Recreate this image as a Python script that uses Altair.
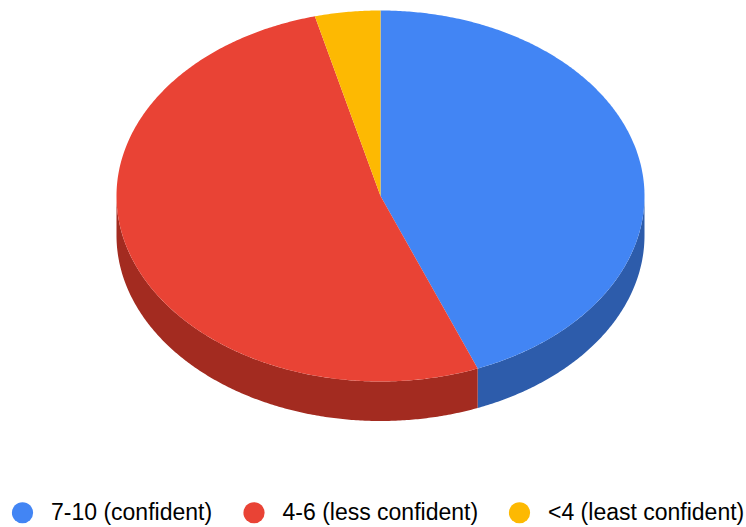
import numpy as np
import pandas as pd
import altair as alt

# Survey responses, share of answers per confidence band
categories = ["7-10 (confident)", "4-6 (less confident)", "<4 (least confident)"]
shares = [44.0, 52.0, 4.0]
face_colors = ["#4285f4", "#e94335", "#fdb902"]
wall_colors = ["#2d5cab", "#a32b20", "#af8303"]

W, H = 746, 527
CX, CY = 380.5, 196.0
RX, RY = 264.0, 185.5
DEPTH = 39.5 / RY  # wall height in units of the vertical radius


def rim(start, stop):
    """Points along the tilted pie's rim between two clockwise-from-top angles."""
    n = max(2, int(abs(stop - start) * 120))
    t = np.linspace(start, stop, n)
    return np.sin(t), np.cos(t)


face_rows, wall_rows = [], []
turn = 0.0
total = sum(shares)
for name, share in zip(categories, shares):
    a0 = turn * 2 * np.pi / total
    a1 = (turn + share) * 2 * np.pi / total
    turn += share

    x, y = rim(a0, a1)
    xs = np.r_[0.0, x]
    ys = np.r_[0.0, y]
    for i, (px, py) in enumerate(zip(xs, ys)):
        face_rows.append({"band": name, "step": i, "x": px, "y": py})

    # The wall only shows on the front half of the rim
    lo, hi = max(a0, np.pi / 2), min(a1, 3 * np.pi / 2)
    if hi > lo:
        x, y = rim(lo, hi)
        xs = np.r_[x, x[::-1]]
        ys = np.r_[y, y[::-1] - DEPTH]
        for i, (px, py) in enumerate(zip(xs, ys)):
            wall_rows.append({"band": name, "step": i, "x": px, "y": py})

faces = pd.DataFrame(face_rows)
walls = pd.DataFrame(wall_rows)

x_scale = alt.Scale(domain=[-CX / RX, (W - CX) / RX], nice=False, zero=False)
y_scale = alt.Scale(domain=[(CY - H) / RY, CY / RY], nice=False, zero=False)
x_enc = alt.X("x:Q", scale=x_scale, axis=None)
y_enc = alt.Y("y:Q", scale=y_scale, axis=None)

wall_layer = (
    alt.Chart(walls)
    .mark_line(filled=True, strokeWidth=0)
    .encode(
        x=x_enc,
        y=y_enc,
        order="step:Q",
        color=alt.Color(
            "band:N",
            scale=alt.Scale(domain=categories, range=wall_colors),
            legend=None,
        ),
    )
)

face_layer = (
    alt.Chart(faces)
    .mark_line(filled=True, strokeWidth=0)
    .encode(
        x=x_enc,
        y=y_enc,
        order="step:Q",
        color=alt.Color(
            "band:N",
            sort=categories,
            scale=alt.Scale(domain=categories, range=face_colors),
            legend=alt.Legend(
                title=None,
                orient="none",
                legendX=11,
                legendY=501,
                direction="horizontal",
                columns=3,
                symbolType="circle",
                symbolSize=450,
                symbolStrokeWidth=0,
                symbolOpacity=1,
                labelFont="Liberation Sans",
                labelFontSize=23,
                labelColor="#000000",
                labelOffset=17,
                columnPadding=29.5,
                padding=0,
                labelLimit=300,
                offset=0,
            ),
        ),
    )
)

chart = (
    alt.layer(wall_layer, face_layer)
    .resolve_scale(color="independent")
    .properties(width=W, height=H, padding=0, autosize=alt.AutoSizeParams(type="none"))
    .configure_view(stroke=None)
)

chart.save("out.html", embed_options={"renderer": "svg", "actions": False})
